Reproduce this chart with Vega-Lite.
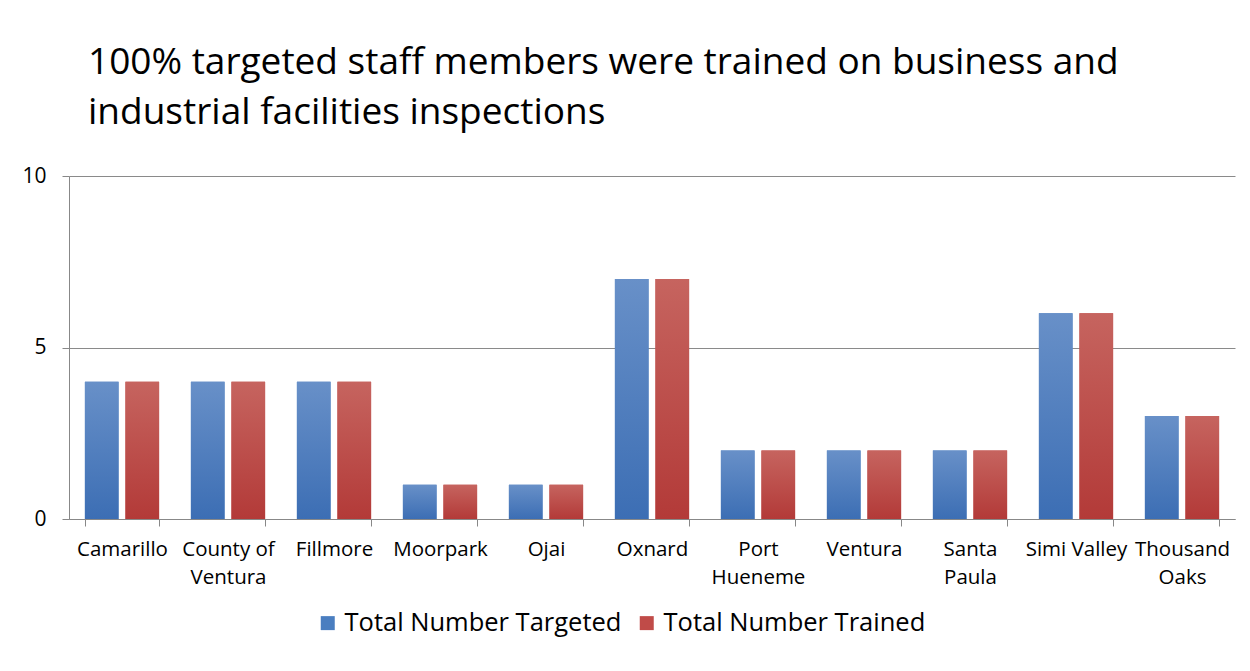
{
  "$schema": "https://vega.github.io/schema/vega-lite/v6.json",
  "width": 1166,
  "height": 343,
  "autosize": {"type": "none"},
  "padding": {"left": 69, "top": 176, "right": 15, "bottom": 152},
  "background": "white",
  "config": {"view": {"stroke": null}, "font": "Open Sans"},
  "title": {
    "text": ["100% targeted staff members were trained on business and", "industrial facilities inspections"],
    "anchor": "start",
    "frame": "group",
    "font": "Open Sans",
    "fontSize": 37,
    "fontWeight": "normal",
    "color": "black",
    "lineHeight": 50,
    "dx": 19,
    "offset": 33
  },
  "data": {
    "values": [
      {"city": "Camarillo", "series": "Total Number Targeted", "value": 4},
      {"city": "Camarillo", "series": "Total Number Trained", "value": 4},
      {"city": "County of Ventura", "series": "Total Number Targeted", "value": 4},
      {"city": "County of Ventura", "series": "Total Number Trained", "value": 4},
      {"city": "Fillmore", "series": "Total Number Targeted", "value": 4},
      {"city": "Fillmore", "series": "Total Number Trained", "value": 4},
      {"city": "Moorpark", "series": "Total Number Targeted", "value": 1},
      {"city": "Moorpark", "series": "Total Number Trained", "value": 1},
      {"city": "Ojai", "series": "Total Number Targeted", "value": 1},
      {"city": "Ojai", "series": "Total Number Trained", "value": 1},
      {"city": "Oxnard", "series": "Total Number Targeted", "value": 7},
      {"city": "Oxnard", "series": "Total Number Trained", "value": 7},
      {"city": "Port Hueneme", "series": "Total Number Targeted", "value": 2},
      {"city": "Port Hueneme", "series": "Total Number Trained", "value": 2},
      {"city": "Ventura", "series": "Total Number Targeted", "value": 2},
      {"city": "Ventura", "series": "Total Number Trained", "value": 2},
      {"city": "Santa Paula", "series": "Total Number Targeted", "value": 2},
      {"city": "Santa Paula", "series": "Total Number Trained", "value": 2},
      {"city": "Simi Valley", "series": "Total Number Targeted", "value": 6},
      {"city": "Simi Valley", "series": "Total Number Trained", "value": 6},
      {"city": "Thousand Oaks", "series": "Total Number Targeted", "value": 3},
      {"city": "Thousand Oaks", "series": "Total Number Trained", "value": 3}
    ]
  },
  "encoding": {
    "x": {
      "field": "city",
      "type": "nominal",
      "sort": null,
      "title": null,
      "scale": {"paddingInner": 0.3, "paddingOuter": 0.15},
      "axis": {
        "labelAngle": 0,
        "tickBand": "extent",
        "domainColor": "#888888",
        "tickColor": "#888888",
        "tickSize": 7,
        "labelFont": "Open Sans",
        "labelFontSize": 20.5,
        "labelColor": "black",
        "labelPadding": 13,
        "labelLineHeight": 28,
        "labelLimit": 200,
        "labelExpr": "datum.label == 'County of Ventura' ? ['County of','Ventura'] : datum.label == 'Port Hueneme' ? ['Port','Hueneme'] : datum.label == 'Santa Paula' ? ['Santa','Paula'] : datum.label == 'Thousand Oaks' ? ['Thousand','Oaks'] : datum.label"
      }
    },
    "xOffset": {
      "field": "series",
      "type": "nominal",
      "sort": ["Total Number Targeted", "Total Number Trained"],
      "scale": {"paddingInner": 0.17, "paddingOuter": 0}
    },
    "y": {
      "field": "value",
      "type": "quantitative",
      "title": null,
      "scale": {"domain": [0, 10], "nice": false},
      "axis": {
        "values": [0, 5, 10],
        "grid": true,
        "gridColor": "#8a8a8a",
        "domainColor": "#888888",
        "tickColor": "#888888",
        "tickSize": 7,
        "labelFont": "Open Sans",
        "labelFontSize": 21,
        "labelColor": "black",
        "labelPadding": 16
      }
    }
  },
  "layer": [
    {
      "mark": {"type": "bar"},
      "encoding": {
        "color": {
          "field": "series",
          "type": "nominal",
          "scale": {"domain": ["Total Number Targeted", "Total Number Trained"], "range": ["#4A7EC0", "#C04B48"]},
          "legend": {
            "title": null,
            "orient": "none",
            "legendX": 246,
            "legendY": 434,
            "direction": "horizontal",
            "symbolType": "square",
            "symbolSize": 196,
            "symbolStrokeWidth": 0,
            "labelFont": "Open Sans",
            "labelFontSize": 25.5,
            "labelColor": "black",
            "labelOffset": 4,
            "labelLimit": 400,
            "columnPadding": 12
          }
        }
      }
    },
    {
      "mark": {"type": "bar"},
      "encoding": {
        "fill": {
          "condition": {
            "test": "datum.series == 'Total Number Targeted'",
            "value": {"gradient": "linear", "x1": 0, "y1": 0, "x2": 0, "y2": 1, "stops": [{"offset": 0, "color": "#6890C8"}, {"offset": 1, "color": "#3C6EB4"}]}
          },
          "value": {"gradient": "linear", "x1": 0, "y1": 0, "x2": 0, "y2": 1, "stops": [{"offset": 0, "color": "#C6645F"}, {"offset": 1, "color": "#B33A38"}]}
        }
      }
    }
  ]
}
